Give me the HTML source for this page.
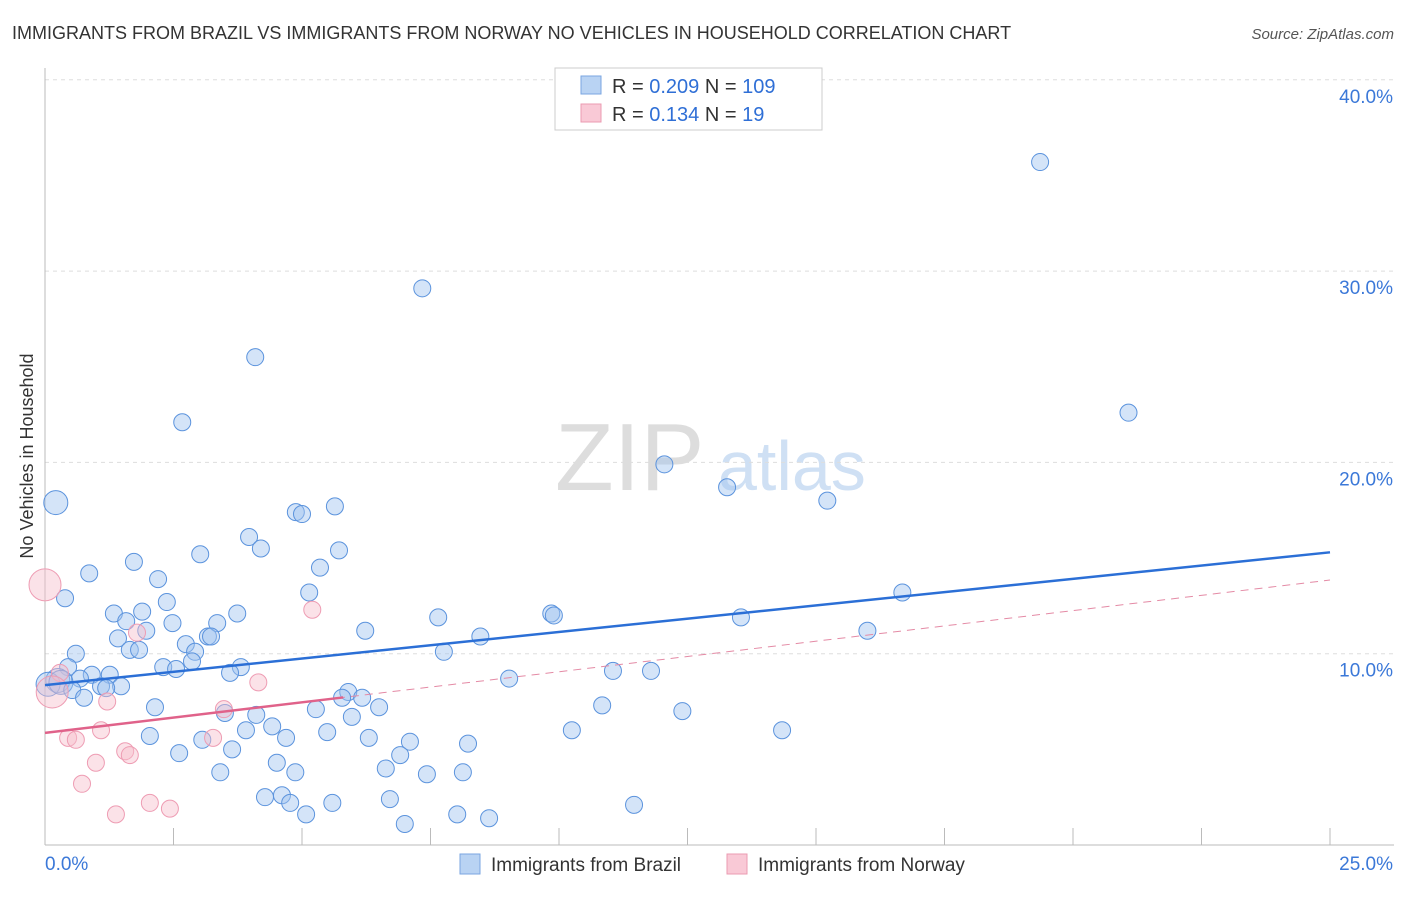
<!DOCTYPE html>
<html><head><meta charset="utf-8"><style>
body{margin:0;background:#fff;font-family:"Liberation Sans",sans-serif}
svg text{font-family:"Liberation Sans",sans-serif}
</style></head><body>
<svg id="chart" width="1406" height="892">
<text x="12" y="39" font-size="18" fill="#333">IMMIGRANTS FROM BRAZIL VS IMMIGRANTS FROM NORWAY NO VEHICLES IN HOUSEHOLD CORRELATION CHART</text>
<text x="1394" y="39" font-size="15" fill="#555" text-anchor="end" font-style="italic">Source: ZipAtlas.com</text>
<text x="33" y="456" font-size="18" fill="#333" text-anchor="middle" transform="rotate(-90 33 456)">No Vehicles in Household</text>
<g><text x="555" y="490" font-size="96" fill="#ddd" font-family="Liberation Serif">ZIP</text><text x="718" y="490" font-size="70" fill="#cfe0f4">atlas</text></g>
<g id="grid"></g><g id="pts"></g><g id="lines"></g>
<g>
<rect x="555" y="68" width="267" height="62" fill="#fff" stroke="#ccc"/>
<rect x="581" y="76" width="20" height="18" fill="#b9d3f3" stroke="#7aa6e0"/>
<rect x="581" y="104" width="20" height="18" fill="#f9c9d6" stroke="#eb9bb1"/>
<text x="612" y="93" font-size="20" fill="#333">R = <tspan fill="#2f6fd6">0.209</tspan>   N = <tspan fill="#2f6fd6">109</tspan></text>
<text x="612" y="121" font-size="20" fill="#333">R =  <tspan fill="#2f6fd6">0.134</tspan>   N =    <tspan fill="#2f6fd6">19</tspan></text>
</g>
<g>
<rect x="460" y="854" width="20" height="20" fill="#b9d3f3" stroke="#7aa6e0"/>
<text x="491" y="871" font-size="19" fill="#333">Immigrants from Brazil</text>
<rect x="727" y="854" width="20" height="20" fill="#f9c9d6" stroke="#eb9bb1"/>
<text x="758" y="871" font-size="19" fill="#333">Immigrants from Norway</text>
</g>
</svg>
<script>
const yTicks=[10,20,30,40];
const yTickLabels=["10.0%","20.0%","30.0%","40.0%"];
const xTickLabels=["0.0%","25.0%"];
const brazilX=[19.36,7.34,4.09,21.08,2.67,12.05,13.27,15.22,0.21,4.88,5.0,5.64,3.97,4.2,3.02,5.72,1.73,0.86,5.35,2.2,5.14,16.68,0.39,2.37,1.34,1.89,3.74,9.85,9.9,7.65,13.54,1.58,2.48,3.35,1.97,6.23,16.0,1.42,3.17,3.23,8.47,2.74,1.65,1.83,2.92,7.76,0.6,2.86,2.3,2.55,0.45,3.81,3.6,11.05,11.79,0.91,1.26,0.68,0.25,0.06,0.31,9.03,1.48,1.09,1.19,0.53,5.9,6.17,0.76,5.78,2.14,6.5,5.27,10.84,12.4,3.5,5.97,4.11,10.25,14.34,4.42,3.91,2.04,5.49,3.06,4.69,6.3,7.1,8.23,3.64,2.61,6.91,4.51,6.63,3.41,4.87,7.43,8.13,4.28,4.61,6.71,4.77,5.59,11.46,5.08,8.02,7.0,8.64];
const brazilY=[35.7,29.1,25.5,22.6,22.1,19.9,18.7,18.0,17.9,17.4,17.3,17.7,16.1,15.5,15.2,15.4,14.8,14.2,14.5,13.9,13.2,13.2,12.9,12.7,12.1,12.2,12.1,12.1,12.0,11.9,11.9,11.7,11.6,11.6,11.2,11.2,11.2,10.8,10.9,10.9,10.9,10.5,10.2,10.2,10.1,10.1,10.0,9.6,9.3,9.2,9.3,9.3,9.0,9.1,9.1,8.9,8.9,8.7,8.6,8.4,8.5,8.7,8.3,8.3,8.2,8.1,8.0,7.7,7.7,7.7,7.2,7.2,7.1,7.3,7.0,6.9,6.7,6.8,6.0,6.0,6.2,6.0,5.7,5.9,5.5,5.6,5.6,5.4,5.3,5.0,4.8,4.7,4.3,4.0,3.8,3.8,3.7,3.8,2.5,2.6,2.4,2.2,2.2,2.1,1.6,1.6,1.1,1.4];
const norwayX=[0.0,5.2,1.79,4.15,3.48,1.21,0.29,0.14,1.09,3.27,0.45,0.6,1.56,1.65,0.99,0.72,2.04,2.43,1.38];
const norwayY=[13.6,12.3,11.1,8.5,7.1,7.5,9.0,8.0,6.0,5.6,5.6,5.5,4.9,4.7,4.3,3.2,2.2,1.9,1.6];
const brazilTrend=[8.36,15.3];
const norwayTrend=[5.86,13.85];
const NS="http://www.w3.org/2000/svg";
const X0=45,X1=1330,XMAX=25,Y0=845,PPY=19.13;
const sx=v=>X0+v/XMAX*(X1-X0), sy=v=>Y0-v*PPY;
function mk(t,a,p){const e=document.createElementNS(NS,t);for(const k in a)e.setAttribute(k,a[k]);p.appendChild(e);return e;}
const grid=document.getElementById('grid');
yTicks.forEach((t,i)=>{
 const l=mk('line',{x1:45,x2:1394,y1:sy(t),y2:sy(t),stroke:'#ddd','stroke-dasharray':'4,4'},grid);
 
 
 const tx=mk('text',{x:1393,y:sy(t)+23,'font-size':19,fill:'#3b78d8','text-anchor':'end'},grid);tx.textContent=yTickLabels[i];
 
 
});
const ax=mk('line',{x1:45,x2:1394,y1:845,y2:845,stroke:'#bbb'},grid);


const ay=mk('line',{x1:45,x2:45,y1:68,y2:845,stroke:'#bbb'},grid);


for(let i=1;i<=10;i++){const xx=45+i*128.5;const t=mk('line',{x1:xx,x2:xx,y1:828,y2:845,stroke:'#bbb'},grid);
 
 }
[[0,'start',45],[1,'end',1393]].forEach(([i,a,x])=>{const t=mk('text',{x:x,y:870,'font-size':19,fill:'#3b78d8','text-anchor':a},grid);t.textContent=xTickLabels[i];
 
 });
const pts=document.getElementById('pts');
brazilX.forEach((x,i)=>{const big=(x<0.4&&brazilY[i]>8&&brazilY[i]<9)||(x<0.3&&brazilY[i]>17);
 const c=mk('circle',{cx:sx(x),cy:sy(brazilY[i]),r:big?12:8.5,fill:'rgba(160,196,240,0.45)',stroke:'#5b93dd','stroke-width':1},pts);
 
 });
norwayX.forEach((x,i)=>{const big=x<0.2;
 const c=mk('circle',{cx:sx(x),cy:sy(norwayY[i]),r:big?16:8.5,fill:'rgba(246,190,205,0.45)',stroke:'#ee9cb3','stroke-width':1},pts);
 
 });
const lines=document.getElementById('lines');
const bl=mk('line',{x1:sx(0),y1:sy(brazilTrend[0]),x2:sx(25),y2:sy(brazilTrend[1]),stroke:'#2b6fd6','stroke-width':2.5},lines);


const nd=mk('line',{x1:sx(0),y1:sy(norwayTrend[0]),x2:sx(25),y2:sy(norwayTrend[1]),stroke:'#e48aa5','stroke-width':1,'stroke-dasharray':'8,6'},lines);


const xe=5.8, ye=norwayTrend[0]+(norwayTrend[1]-norwayTrend[0])*xe/25;
const ns=mk('line',{x1:sx(0),y1:sy(norwayTrend[0]),x2:sx(xe),y2:sy(ye),stroke:'#e0628a','stroke-width':2.5},lines);


</script>
</body></html>
